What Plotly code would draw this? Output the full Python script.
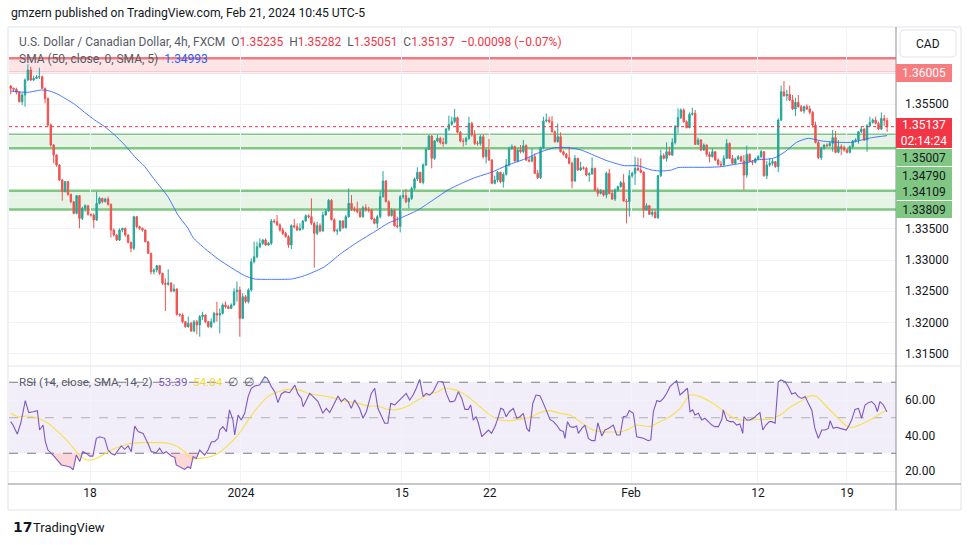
import plotly.graph_objects as go
from plotly.subplots import make_subplots

# ---------------- data ----------------
first_open = 1.35788
closes = [
1.35751,1.35735,1.35687,1.35537,1.35644,1.35884,1.36045,1.35884,1.35911,1.35932,
1.35938,1.35751,1.35590,1.35163,1.34843,1.34683,1.34522,1.34282,1.34095,1.34255,
1.34052,1.33935,1.33748,1.34031,1.33667,1.33828,1.33870,1.33732,1.33721,1.33641,
1.33908,1.33988,1.33935,1.33977,1.33892,1.33481,1.33400,1.33320,1.33481,1.33507,
1.33400,1.33283,1.33187,1.33694,1.33534,1.33507,1.33481,1.33293,1.33107,1.32813,
1.32840,1.32909,1.32786,1.32626,1.32610,1.32631,1.32503,1.32535,1.32129,1.32118,
1.32011,1.31931,1.31985,1.31862,1.32011,1.31958,1.32092,1.32118,1.32011,1.31931,
1.32011,1.32145,1.32118,1.32145,1.32279,1.32252,1.32225,1.32279,1.32492,1.32519,
1.32065,1.32412,1.32332,1.32519,1.32973,1.33053,1.33213,1.33267,1.33320,1.33240,
1.33267,1.33625,1.33614,1.33561,1.33481,1.33427,1.33374,1.33240,1.33550,1.33534,
1.33481,1.33507,1.33625,1.33710,1.33694,1.33587,1.33427,1.33550,1.33464,1.33721,
1.33785,1.33956,1.33646,1.33464,1.33470,1.33625,1.33518,1.33694,1.33908,1.33817,
1.33801,1.33774,1.33694,1.33838,1.33801,1.33796,1.33657,1.33587,1.33694,1.34015,
1.34266,1.33935,1.33710,1.33796,1.33550,1.33539,1.34015,1.34031,1.33935,1.33988,
1.34148,1.34298,1.34405,1.34244,1.34522,1.34773,1.34987,1.34629,1.34907,1.34950,
1.34885,1.34869,1.35099,1.35174,1.35217,1.35281,1.35046,1.34907,1.34901,1.34950,
1.35190,1.35003,1.34869,1.34864,1.34976,1.34656,1.34763,1.34602,1.34228,1.34282,
1.34405,1.34255,1.34373,1.34522,1.34789,1.34816,1.34586,1.34763,1.34736,1.34832,
1.34602,1.34586,1.34656,1.34389,1.34319,1.34800,1.35227,1.35243,1.35217,1.35056,
1.34896,1.34976,1.34736,1.34693,1.34640,1.34549,1.34266,1.34629,1.34442,1.34479,
1.34469,1.34362,1.34383,1.34469,1.34121,1.34068,1.34105,1.34041,1.34389,1.34068,
1.33977,1.34121,1.34175,1.34239,1.33945,1.33935,1.34351,1.34389,1.34469,1.34442,
1.34405,1.33801,1.33870,1.33732,1.33764,1.33678,1.34351,1.34672,1.34629,1.34736,
1.34683,1.34885,1.35137,1.35281,1.35404,1.35217,1.35120,1.35334,1.35350,1.34853,
1.34923,1.34763,1.34843,1.34693,1.34656,1.34736,1.34602,1.34533,1.34522,1.34629,
1.34869,1.34629,1.34549,1.34618,1.34656,1.34586,1.34362,1.34693,1.34576,1.34565,
1.34618,1.34656,1.34736,1.34351,1.34522,1.34549,1.34576,1.34495,1.35243,1.35697,
1.35633,1.35655,1.35564,1.35420,1.35526,1.35457,1.35388,1.35457,1.35420,1.35366,
1.35163,1.34885,1.34640,1.34789,1.34843,1.34832,1.34869,1.34960,1.34725,1.34816,
1.34789,1.34763,1.34725,1.34816,1.34907,1.34923,1.35056,1.35099,1.34923,1.35152,
1.35206,1.35243,1.35190,1.35099,1.35270,1.35235,1.35137]
highs = [
1.35804,1.35762,1.35762,1.35697,1.35681,1.35911,1.36135,1.36098,1.35954,1.35964,
1.36082,1.35954,1.35762,1.35601,1.35190,1.34853,1.34693,1.34533,1.34298,1.34266,
1.34266,1.34063,1.33945,1.34041,1.34041,1.33854,1.33892,1.33881,1.33742,1.33748,
1.34095,1.34015,1.33999,1.33999,1.34015,1.33903,1.33507,1.33411,1.33507,1.33518,
1.33518,1.33411,1.33293,1.33710,1.33705,1.33550,1.33518,1.33491,1.33304,1.33117,
1.32866,1.32920,1.32920,1.32797,1.32706,1.32850,1.32642,1.32610,1.32546,1.32145,
1.32145,1.32022,1.32092,1.32011,1.32038,1.32038,1.32118,1.32172,1.32129,1.32022,
1.32065,1.32172,1.32332,1.32225,1.32305,1.32332,1.32279,1.32305,1.32546,1.32653,
1.32572,1.32466,1.32439,1.32546,1.33027,1.33293,1.33293,1.33347,1.33336,1.33347,
1.33293,1.33657,1.33657,1.33721,1.33587,1.33518,1.33454,1.33400,1.33571,1.33657,
1.33587,1.33587,1.33641,1.33732,1.33732,1.33988,1.33614,1.33614,1.33587,1.33774,
1.33817,1.33977,1.33977,1.33667,1.33507,1.33641,1.33641,1.33721,1.34148,1.34041,
1.33854,1.33935,1.33828,1.33870,1.33892,1.33854,1.33817,1.33678,1.33721,1.34105,
1.34426,1.34282,1.33956,1.33828,1.33817,1.33694,1.34041,1.34121,1.34137,1.33999,
1.34175,1.34319,1.34485,1.34415,1.34549,1.34800,1.35003,1.35003,1.34923,1.35014,
1.34976,1.34960,1.35120,1.35313,1.35297,1.35420,1.35297,1.35067,1.34950,1.34976,
1.35297,1.35217,1.35083,1.34907,1.35003,1.35014,1.34779,1.34939,1.34618,1.34351,
1.34426,1.34415,1.34405,1.34618,1.34816,1.34853,1.34832,1.34789,1.34843,1.34923,
1.34853,1.34656,1.34789,1.34709,1.34442,1.34816,1.35297,1.35350,1.35297,1.35307,
1.35078,1.35190,1.35046,1.34757,1.34714,1.34816,1.34576,1.34683,1.34640,1.34576,
1.34501,1.34490,1.34405,1.34645,1.34479,1.34159,1.34137,1.34121,1.34415,1.34458,
1.34121,1.34148,1.34191,1.34266,1.34378,1.33977,1.34442,1.34415,1.34656,1.34640,
1.34629,1.34426,1.33908,1.33881,1.33817,1.33817,1.34362,1.34763,1.34709,1.34885,
1.34816,1.34950,1.35163,1.35430,1.35430,1.35430,1.35238,1.35366,1.35441,1.35404,
1.34960,1.34939,1.34869,1.34853,1.34736,1.34789,1.34747,1.34629,1.34586,1.34683,
1.34939,1.34885,1.34683,1.34640,1.34683,1.34672,1.34683,1.34832,1.34709,1.34602,
1.34640,1.34683,1.34763,1.34747,1.34586,1.34629,1.34618,1.34586,1.35270,1.35794,
1.35868,1.35724,1.35794,1.35644,1.35601,1.35644,1.35484,1.35473,1.35494,1.35473,
1.35388,1.35217,1.34907,1.34816,1.34853,1.34869,1.34896,1.35083,1.35067,1.34923,
1.34853,1.34832,1.34789,1.34832,1.34923,1.34950,1.35067,1.35137,1.35110,1.35174,
1.35297,1.35270,1.35297,1.35217,1.35366,1.35324,1.35282]
lows = [
1.35655,1.35697,1.35655,1.35526,1.35484,1.35457,1.35868,1.35868,1.35868,1.35900,
1.35900,1.35740,1.35510,1.35137,1.34816,1.34549,1.34495,1.34266,1.33951,1.34084,
1.34031,1.33908,1.33732,1.33732,1.33507,1.33641,1.33774,1.33710,1.33694,1.33507,
1.33625,1.33892,1.33908,1.33924,1.33870,1.33358,1.33374,1.33304,1.33304,1.33443,
1.33374,1.33267,1.33123,1.33160,1.33507,1.33481,1.33454,1.33283,1.33096,1.32770,
1.32770,1.32802,1.32759,1.32599,1.32182,1.32588,1.32482,1.32482,1.32108,1.32092,
1.31985,1.31915,1.31915,1.31851,1.31841,1.31808,1.31771,1.32038,1.31985,1.31915,
1.31905,1.31985,1.32011,1.31824,1.32129,1.32225,1.32214,1.32214,1.32268,1.32332,
1.31771,1.32054,1.32305,1.32305,1.32492,1.32946,1.33027,1.33187,1.33240,1.33229,
1.33229,1.33240,1.33587,1.33550,1.33454,1.33400,1.33358,1.33197,1.33176,1.33507,
1.33464,1.33464,1.33481,1.33614,1.33667,1.33561,1.32877,1.33400,1.33443,1.33454,
1.33710,1.33774,1.33635,1.33443,1.33400,1.33454,1.33497,1.33507,1.33678,1.33785,
1.33774,1.33748,1.33678,1.33678,1.33774,1.33764,1.33641,1.33571,1.33507,1.33667,
1.33999,1.33924,1.33694,1.33694,1.33534,1.33507,1.33443,1.33977,1.33908,1.33828,
1.33961,1.34121,1.34266,1.34228,1.34212,1.34506,1.34757,1.34469,1.34602,1.34885,
1.34853,1.34816,1.34853,1.35067,1.35152,1.35190,1.35030,1.34885,1.34816,1.34843,
1.34923,1.34976,1.34843,1.34832,1.34832,1.34629,1.34549,1.34586,1.34212,1.34212,
1.34244,1.34228,1.34159,1.34351,1.34495,1.34763,1.34576,1.34565,1.34709,1.34709,
1.34586,1.34565,1.34565,1.34373,1.34298,1.34298,1.34779,1.35206,1.35190,1.35040,
1.34880,1.34880,1.34720,1.34672,1.34624,1.34533,1.34148,1.34255,1.34426,1.34426,
1.34447,1.34341,1.34255,1.34362,1.34105,1.34015,1.34052,1.34015,1.33988,1.34052,
1.33961,1.33945,1.34095,1.34159,1.33935,1.33587,1.33694,1.34319,1.34202,1.34426,
1.34389,1.33678,1.33785,1.33721,1.33694,1.33667,1.33657,1.34330,1.34613,1.34576,
1.34672,1.34666,1.34853,1.35030,1.35259,1.35201,1.35110,1.35110,1.35313,1.34843,
1.34843,1.34747,1.34747,1.34656,1.34565,1.34640,1.34586,1.34511,1.34495,1.34511,
1.34618,1.34618,1.34533,1.34533,1.34602,1.34565,1.34121,1.34319,1.34565,1.34522,
1.34549,1.34602,1.34629,1.34335,1.34298,1.34495,1.34511,1.34479,1.34405,1.35227,
1.35617,1.35553,1.35548,1.35404,1.35307,1.35441,1.35377,1.35350,1.35404,1.35334,
1.35120,1.34869,1.34618,1.34602,1.34768,1.34811,1.34816,1.34736,1.34709,1.34709,
1.34683,1.34736,1.34709,1.34709,1.34789,1.34885,1.34864,1.35035,1.34907,1.34736,
1.35137,1.35185,1.35174,1.35083,1.35083,1.35152,1.35051]

# SMA(50) line, sampled at bar positions
sma_x = [0,6.0,10.7,13.6,16.5,22.3,25.8,29.3,32.8,36.3,39.8,43.3,46.8,50.3,54.9,58.4,61.9,63.7,67.7,72.4,
         77.0,81.7,85.2,91.0,98.0,101.5,103.8,109.6,115.4,121.3,127.1,131.7,136.4,142.2,148.0,152.7,156.2,162.0,
         167.8,173.6,179.5,185.3,190.0,194.6,199.2,203.9,208.5,214.3,219.0,223.7,227.2,230.7,233.0,237.6,243.5,
         248.1,252.8,257.4,259.9,264.5,266.9,270.4,274.4,278.5,283.2,289.0,293.7,297.1,300.6,306.0]
sma_v = [1.35708,1.35687,1.35724,1.35708,1.35655,1.35495,1.35366,1.35244,1.35137,1.35003,1.34843,1.34656,
         1.34496,1.34282,1.34015,1.33721,1.33507,1.33358,1.33187,1.33016,1.32877,1.32749,1.32695,1.32690,
         1.32695,1.32733,1.32770,1.32893,1.33107,1.33293,1.33454,1.33587,1.33678,1.33801,1.33978,1.34122,
         1.34202,1.34319,1.34405,1.34522,1.34618,1.34736,1.34800,1.34800,1.34763,1.34672,1.34587,1.34512,
         1.34512,1.34442,1.34426,1.34442,1.34480,1.34485,1.34485,1.34496,1.34533,1.34565,1.34602,1.34618,
         1.34640,1.34736,1.34886,1.34950,1.34907,1.34886,1.34886,1.34923,1.34960,1.34993]

# RSI(14)
rsi_x = [0.0,0.8,2.3,3.5,5.1,6.3,7.8,9.3,10.1,11.3,12.1,13.0,14.8,16.5,17.7,19.4,20.9,21.8,22.9,24.1,
         25.2,26.4,27.6,28.7,29.9,31.1,32.8,34.0,35.1,36.3,37.5,38.6,39.8,41.0,42.1,43.3,44.5,46.2,47.9,49.1,
         50.8,52.0,53.2,54.3,56.1,57.3,57.8,59.0,60.7,61.9,62.8,63.7,64.8,66.0,66.6,67.7,68.9,70.1,71.2,72.4,
         73.0,74.1,75.3,76.4,77.6,78.2,79.4,80.5,81.7,82.9,84.0,85.2,86.9,88.7,89.6,91.0,92.2,93.3,94.5,95.7,
         97.4,99.2,100.3,101.5,102.1,103.2,104.4,105.6,107.3,109.0,110.2,111.4,112.5,114.3,115.4,116.6,117.8,
         118.9,120.1,121.8,123.0,124.2,125.9,127.1,128.2,129.4,130.6,131.7,132.7,134.1,135.2,137.0,138.1,139.3,
         140.5,141.6,142.8,144.0,145.1,146.3,147.5,149.2,150.9,152.1,153.3,154.4,
         155.1,156.3,157.5,158.6,159.8,160.6,161.5,162.5,163.3,164.5,165.6,166.8,167.9,169.1,170.3,171.1,172.0,
         173.0,174.1,175.5,176.7,177.8,179.0,180.2,181.1,182.3,183.4,184.8,186.0,187.1,188.3,189.5,190.6,191.8,
         193.0,193.5,194.4,195.3,196.5,197.6,198.2,199.4,200.5,201.7,202.9,204.0,205.0,206.4,207.5,208.7,210.4,
         211.6,212.8,213.9,215.1,216.0,217.4,218.6,219.7,220.9,222.6,223.5,224.4,225.6,226.7,227.9,229.0,230.2,
         231.4,232.5,233.7,234.9,236.3,237.2,238.1,238.9,240.1,241.3,242.4,243.6,244.8,245.9,247.1,248.3,248.8,
         250.0,251.2,252.3,253.5,254.6,255.6,256.0,257.0,258.1,259.3,260.5,261.6,262.6,263.7,264.9,265.7,266.9,
         268.0,268.9,270.4,271.5,272.7,273.9,275.0,276.2,277.4,278.5,279.7,280.8,282.0,283.2,284.3,285.5,286.1,
         287.2,288.4,289.6,290.7,291.7,292.5,293.6,294.8,296.0,297.1,298.3,299.5,300.6,301.8,302.6,303.5,304.7,
         305.6,306.0]
rsi_v = [47.8,45.9,40.8,46.9,59.6,52.9,53.4,54.0,43.1,45.9,36.5,31.8,29.0,25.8,23.4,22.8,22.1,20.6,29.0,25.3,
         30.9,29.9,28.4,28.4,38.4,39.3,38.4,31.8,29.9,29.0,31.8,34.1,32.2,34.1,30.9,45.3,42.2,41.2,35.6,30.9,
         30.3,32.8,29.9,30.9,28.4,27.7,23.4,22.4,20.9,22.4,21.5,28.1,27.1,31.8,30.9,29.0,31.8,36.5,36.5,38.4,
         43.1,45.0,42.2,54.4,48.7,40.3,51.5,48.7,52.5,61.9,66.6,67.9,68.4,73.1,72.2,67.5,64.7,58.5,63.4,64.7,
         64.1,68.4,63.4,60.9,56.2,60.0,63.7,61.9,59.1,52.5,55.3,52.9,56.2,62.3,59.1,60.9,59.1,
         55.3,60.0,55.3,49.7,53.4,63.7,66.6,55.3,51.5,46.9,46.9,58.1,57.2,59.1,61.9,63.7,60.0,
         62.8,66.6,71.6,61.9,63.7,62.8,64.7,70.3,70.3,63.7,59.1,59.1,
         59.6,64.7,60.9,54.7,54.7,57.2,48.7,50.6,46.9,39.3,41.2,43.1,41.2,45.0,50.6,55.3,54.7,
         50.6,53.4,55.3,49.7,50.6,52.5,44.0,42.2,58.1,62.8,62.4,58.1,54.0,49.1,47.8,45.9,43.1,
         42.2,38.4,47.8,45.0,44.6,45.3,41.2,44.0,45.9,38.4,37.1,37.1,47.2,39.7,43.1,44.0,45.9,
         40.3,40.3,50.6,51.0,54.0,52.5,39.3,39.0,38.4,37.1,37.5,53.4,59.6,59.1,60.9,63.7,67.5,
         69.4,70.9,62.8,64.7,66.6,53.4,54.4,51.5,52.5,48.7,49.7,47.8,45.9,45.0,45.0,49.1,54.4,
         48.7,47.8,47.8,45.9,46.5,41.2,50.6,48.7,48.7,49.7,51.5,52.9,43.1,45.9,47.8,47.8,46.9,
         70.3,71.3,70.3,67.5,63.4,64.1,61.9,60.9,61.9,58.1,54.4,44.0,38.4,43.1,43.1,44.0,48.3,
         44.0,44.6,44.0,43.5,43.1,45.0,48.7,54.7,55.3,49.7,57.2,58.5,59.1,57.2,53.4,59.1,57.2,
         54.4,53.39]

# SMA(14) of RSI
ma_x = [0,2.5,6.0,9.5,13.0,16.5,20.0,23.5,25.8,28.2,31.6,35.1,38.6,42.1,45.6,49.1,52.6,56.1,58.4,60.7,
        63.1,65.4,68.9,72.4,75.9,79.4,82.9,86.4,89.8,93.3,96.8,100.3,103.8,107.3,110.8,114.3,117.8,121.3,
        124.8,128.2,131.7,135.2,138.7,142.2,145.7,149.2,151.5,154.4,156.9,160.4,163.9,167.4,170.9,174.3,
        177.8,181.3,184.8,188.3,191.8,195.3,198.8,202.3,205.8,209.3,212.8,216.2,218.6,223.2,226.7,230.2,
        233.7,237.2,240.7,244.2,247.7,251.2,254.6,258.1,261.6,265.1,268.6,272.1,275.6,279.1,281.4,284.9,
        288.4,291.9,294.2,297.7,301.2,304.7,306.0]
ma_v = [52.5,50.6,51.0,49.7,46.9,42.2,36.5,29.9,26.6,26.2,28.4,31.8,34.1,35.6,36.0,36.0,36.0,35.2,33.7,30.9,
        27.1,27.1,27.7,29.9,34.6,40.3,48.7,56.2,61.9,64.7,66.0,66.0,63.7,62.8,61.9,60.4,59.1,58.1,
        56.6,56.6,54.7,54.7,56.6,60.0,62.8,64.7,66.6,66.0,64.7,60.9,56.2,51.5,48.7,48.3,
        49.1,50.2,52.9,54.0,52.5,51.5,47.8,44.0,42.2,42.0,42.0,44.0,45.9,45.0,47.8,50.6,
        55.3,62.8,61.9,59.1,55.3,51.0,48.7,48.7,49.1,49.1,51.5,55.9,59.1,62.3,61.9,56.2,
        50.6,45.3,44.6,46.9,49.7,53.4,54.04]

# horizontal zones / levels
red_zone = (1.36005, 1.36232)
green_zones = [(1.34790, 1.35007), (1.33809, 1.34109)]
last_price = 1.35137

# axis ticks
date_pos = [27.7, 80.4, 136.6, 167.3, 216.6, 260.9, 292.0]
date_lbl = ["18", "2024", "15", "22", "Feb", "12", "19"]
price_ticks = [1.315, 1.32, 1.325, 1.33, 1.335, 1.34, 1.345, 1.35, 1.355, 1.36]
price_tick_lbl = ["1.31500", "1.32000", "1.32500", "1.33000", "1.33500", "", "", "", "1.35500", ""]
rsi_ticks = [20, 40, 60]

assert len(closes) == len(highs) == len(lows)
assert len(rsi_x) == len(rsi_v) and len(ma_x) == len(ma_v) and len(sma_x) == len(sma_v)

# ---------------- figure ----------------
W, H = 970, 545
L, R, T, B = 9, 74, 27, 61
PW, PH = W - L - R, H - T - B
FONT = "Roboto"
UP, DN = "#26A69A", "#EF5350"

def X(px):
    return (px - L) / PW

def Y(py):
    return (H - B - py) / PH

n = len(closes)
idx = list(range(n))
opens = [first_open] + closes[:-1]
highs = [max(h, o, c) for h, o, c in zip(highs, opens, closes)]
lows = [min(l, o, c) for l, o, c in zip(lows, opens, closes)]

fig = make_subplots(rows=2, cols=1, shared_xaxes=True, vertical_spacing=0,
                    row_heights=[339 / 457, 118 / 457])

fig.add_trace(go.Candlestick(
    x=idx, open=opens, high=highs, low=lows, close=closes,
    increasing=dict(line=dict(color=UP, width=1), fillcolor=UP),
    decreasing=dict(line=dict(color=DN, width=1), fillcolor=DN),
    whiskerwidth=0, hoverinfo="skip", showlegend=False), row=1, col=1)

fig.add_trace(go.Scatter(x=sma_x, y=sma_v, mode="lines",
                         line=dict(color="#2962FF", width=1, shape="spline", smoothing=0.6),
                         opacity=0.85, hoverinfo="skip", showlegend=False), row=1, col=1)

# RSI fills (oversold / overbought)
os_y = [min(v, 30) for v in rsi_v]
ob_y = [max(v, 70) for v in rsi_v]
fig.add_trace(go.Scatter(x=rsi_x, y=[30] * len(rsi_x), mode="lines", line=dict(width=0),
                         hoverinfo="skip", showlegend=False), row=2, col=1)
fig.add_trace(go.Scatter(x=rsi_x, y=os_y, mode="lines", line=dict(width=0), fill="tonexty",
                         fillcolor="rgba(242,54,69,0.20)", hoverinfo="skip", showlegend=False), row=2, col=1)
fig.add_trace(go.Scatter(x=rsi_x, y=[70] * len(rsi_x), mode="lines", line=dict(width=0),
                         hoverinfo="skip", showlegend=False), row=2, col=1)
fig.add_trace(go.Scatter(x=rsi_x, y=ob_y, mode="lines", line=dict(width=0), fill="tonexty",
                         fillcolor="rgba(8,153,129,0.18)", hoverinfo="skip", showlegend=False), row=2, col=1)

fig.add_trace(go.Scatter(x=ma_x, y=ma_v, mode="lines",
                         line=dict(color="#F7E04B", width=1.1, shape="spline", smoothing=0.6),
                         hoverinfo="skip", showlegend=False), row=2, col=1)
fig.add_trace(go.Scatter(x=rsi_x, y=rsi_v, mode="lines",
                         line=dict(color="#7E57C2", width=1.1),
                         hoverinfo="skip", showlegend=False), row=2, col=1)

xr = [(L - 10.7) / 2.864, (W - R - 10.7) / 2.864]
grid = "#F0F3FA"
fig.update_xaxes(range=xr, tickvals=date_pos, ticktext=date_lbl, showgrid=True, gridcolor=grid,
                 zeroline=False, showline=False, ticks="", rangeslider_visible=False,
                 tickfont=dict(family=FONT, size=12, color="#131722"))
fig.update_xaxes(showticklabels=False, row=1, col=1)

fig.update_yaxes(row=1, col=1, side="right", range=[1.313013, 1.36734], tickvals=price_ticks,
                 ticktext=price_tick_lbl, showgrid=True, gridcolor=grid,
                 zeroline=False, showline=False, ticks="", ticklabelstandoff=8,
                 tickfont=dict(family=FONT, size=12, color="#131722"))
fig.update_yaxes(row=2, col=1, side="right", range=[12.68, 79.15], tickvals=rsi_ticks,
                 ticktext=["%.2f" % v for v in rsi_ticks], showgrid=True, gridcolor=grid,
                 zeroline=False, showline=False, ticks="", ticklabelstandoff=8,
                 tickfont=dict(family=FONT, size=12, color="#131722"))

shapes = []
# zones
shapes.append(dict(type="rect", xref="paper", yref="y", x0=0, x1=1, y0=red_zone[0], y1=red_zone[1],
                   fillcolor="rgba(242,54,69,0.13)", line=dict(width=0), layer="below"))
for yv, w in ((red_zone[0], 1.5), (red_zone[1], 2.5)):
    shapes.append(dict(type="line", xref="paper", yref="y", x0=0, x1=1, y0=yv, y1=yv,
                       line=dict(color="#F07A7F", width=w), layer="below"))
for lo, hi in green_zones:
    shapes.append(dict(type="rect", xref="paper", yref="y", x0=0, x1=1, y0=lo, y1=hi,
                       fillcolor="rgba(76,175,80,0.14)", line=dict(width=0), layer="below"))
    for yv in (lo, hi):
        shapes.append(dict(type="line", xref="paper", yref="y", x0=0, x1=1, y0=yv, y1=yv,
                           line=dict(color="#81C784", width=2.5), layer="below"))
shapes.append(dict(type="line", xref="paper", yref="y", x0=0, x1=1, y0=last_price, y1=last_price,
                   line=dict(color="#F23645", width=1, dash="dot"), layer="above"))
# RSI band and levels
shapes.append(dict(type="rect", xref="paper", yref="y2", x0=0, x1=1, y0=30, y1=70,
                   fillcolor="rgba(126,87,194,0.10)", line=dict(width=0), layer="below"))
for lv, col in ((70, "#787B86"), (50, "rgba(120,123,134,0.55)"), (30, "#787B86")):
    shapes.append(dict(type="line", xref="paper", yref="y2", x0=0, x1=1, y0=lv, y1=lv,
                       line=dict(color=col, width=1, dash="dash"), layer="below"))
# frame lines
frame = "#E0E3EB"
shapes += [
    dict(type="line", xref="paper", yref="paper", x0=X(8), x1=X(961), y0=Y(27), y1=Y(27), line=dict(color=frame, width=1)),
    dict(type="line", xref="paper", yref="paper", x0=X(8), x1=X(8), y0=Y(27), y1=Y(510), line=dict(color=frame, width=1)),
    dict(type="line", xref="paper", yref="paper", x0=X(961), x1=X(961), y0=Y(27), y1=Y(510), line=dict(color=frame, width=1)),
    dict(type="line", xref="paper", yref="paper", x0=X(8), x1=X(961), y0=Y(510), y1=Y(510), line=dict(color=frame, width=1)),
    dict(type="line", xref="paper", yref="paper", x0=X(8), x1=X(961), y0=Y(366), y1=Y(366), line=dict(color=frame, width=1)),
    dict(type="line", xref="paper", yref="paper", x0=X(896), x1=X(896), y0=Y(27), y1=Y(510), line=dict(color="#8C8F99", width=1)),
    dict(type="line", xref="paper", yref="paper", x0=X(8), x1=X(961), y0=Y(484), y1=Y(484), line=dict(color="#8C8F99", width=1)),
]

def rrect(x0, y0, x1, y1, r):
    p = lambda a, b: "%.5f,%.5f" % (X(a), Y(b))
    return ("M" + p(x0 + r, y0) + " L" + p(x1 - r, y0) + " Q" + p(x1, y0) + " " + p(x1, y0 + r) +
            " L" + p(x1, y1 - r) + " Q" + p(x1, y1) + " " + p(x1 - r, y1) +
            " L" + p(x0 + r, y1) + " Q" + p(x0, y1) + " " + p(x0, y1 - r) +
            " L" + p(x0, y0 + r) + " Q" + p(x0, y0) + " " + p(x0 + r, y0) + " Z")

shapes.append(dict(type="path", xref="paper", yref="paper", path=rrect(900, 30, 956, 57, 4),
                   line=dict(color="#E0E3EB", width=1), fillcolor="white"))

def ann(text, px, py, size=12, color="#131722", xanchor="left", family=FONT):
    return dict(text=text, x=X(px), y=Y(py), xref="paper", yref="paper", showarrow=False,
                xanchor=xanchor, yanchor="middle", font=dict(size=size, color=color, family=family))

def lab(text, py, bg, fg, h=17):
    return dict(text=text, x=1, y=Y(py), xref="paper", yref="paper", showarrow=False,
                xanchor="left", yanchor="middle", bgcolor=bg, width=56, height=h, borderpad=0,
                borderwidth=0, align="center", font=dict(size=12, color=fg, family=FONT))

G = "#555B66"
sp = "\u00a0"
def c(t, col):
    return '<span style="color:%s">%s</span>' % (col, t)

leg1 = (c("U.S. Dollar / Canadian Dollar, 4h, FXCM", G) + sp * 2 +
        c("O", G) + c("1.35235", "#F23645") + sp * 2 + c("H", G) + c("1.35282", "#F23645") + sp * 2 +
        c("L", G) + c("1.35051", "#F23645") + sp * 2 + c("C", G) + c("1.35137", "#F23645") + sp * 2 +
        c("\u22120.00098 (\u22120.07%)", "#F23645"))
leg2 = c("SMA (50, close, 0, SMA, 5)", G) + sp * 2 + c("1.34993", "#2962FF")
leg3 = (c("RSI (14, close, SMA, 14, 2)", G) + sp * 2 + c("53.39", "#7E57C2") + sp * 2 +
        c("54.04", "#F2D93B") + sp * 2 + c("\u2205" + sp * 2 + "\u2205", G))

annotations = [
    ann("gmzern published on TradingView.com, Feb 21, 2024 10:45 UTC-5", 9, 13, size=12.2),
    ann(leg1, 17, 42, size=12),
    ann(leg2, 17, 59, size=12),
    ann(leg3, 17, 382, size=11.6),
    ann("CAD", 928, 44, size=12, xanchor="center"),
    ann("<b>17</b>", 11, 527, size=14, family="DejaVu Sans"),
    ann("TradingView", 31, 527, size=13),
    lab("1.36005", 72.7, "#F77C80", "white", h=18),
    lab("1.35137<br>02:14:24", 133, "#F23645", "white", h=30),
    lab("1.35007", 157.7, "#81C784", "#131722"),
    lab("1.34790", 175, "#81C784", "#131722"),
    lab("1.34109", 191.7, "#81C784", "#131722"),
    lab("1.33809", 209.3, "#81C784", "#131722"),
]

fig.update_layout(width=W, height=H, margin=dict(l=L, r=R, t=T, b=B),
                  paper_bgcolor="white", plot_bgcolor="white", showlegend=False,
                  hovermode=False, dragmode=False, shapes=shapes, annotations=annotations,
                  font=dict(family=FONT, size=12, color="#131722"))

fig.write_html("out.html", config={"displayModeBar": False},
               post_script="document.body.style.margin='0px';document.body.style.overflow='hidden';")
